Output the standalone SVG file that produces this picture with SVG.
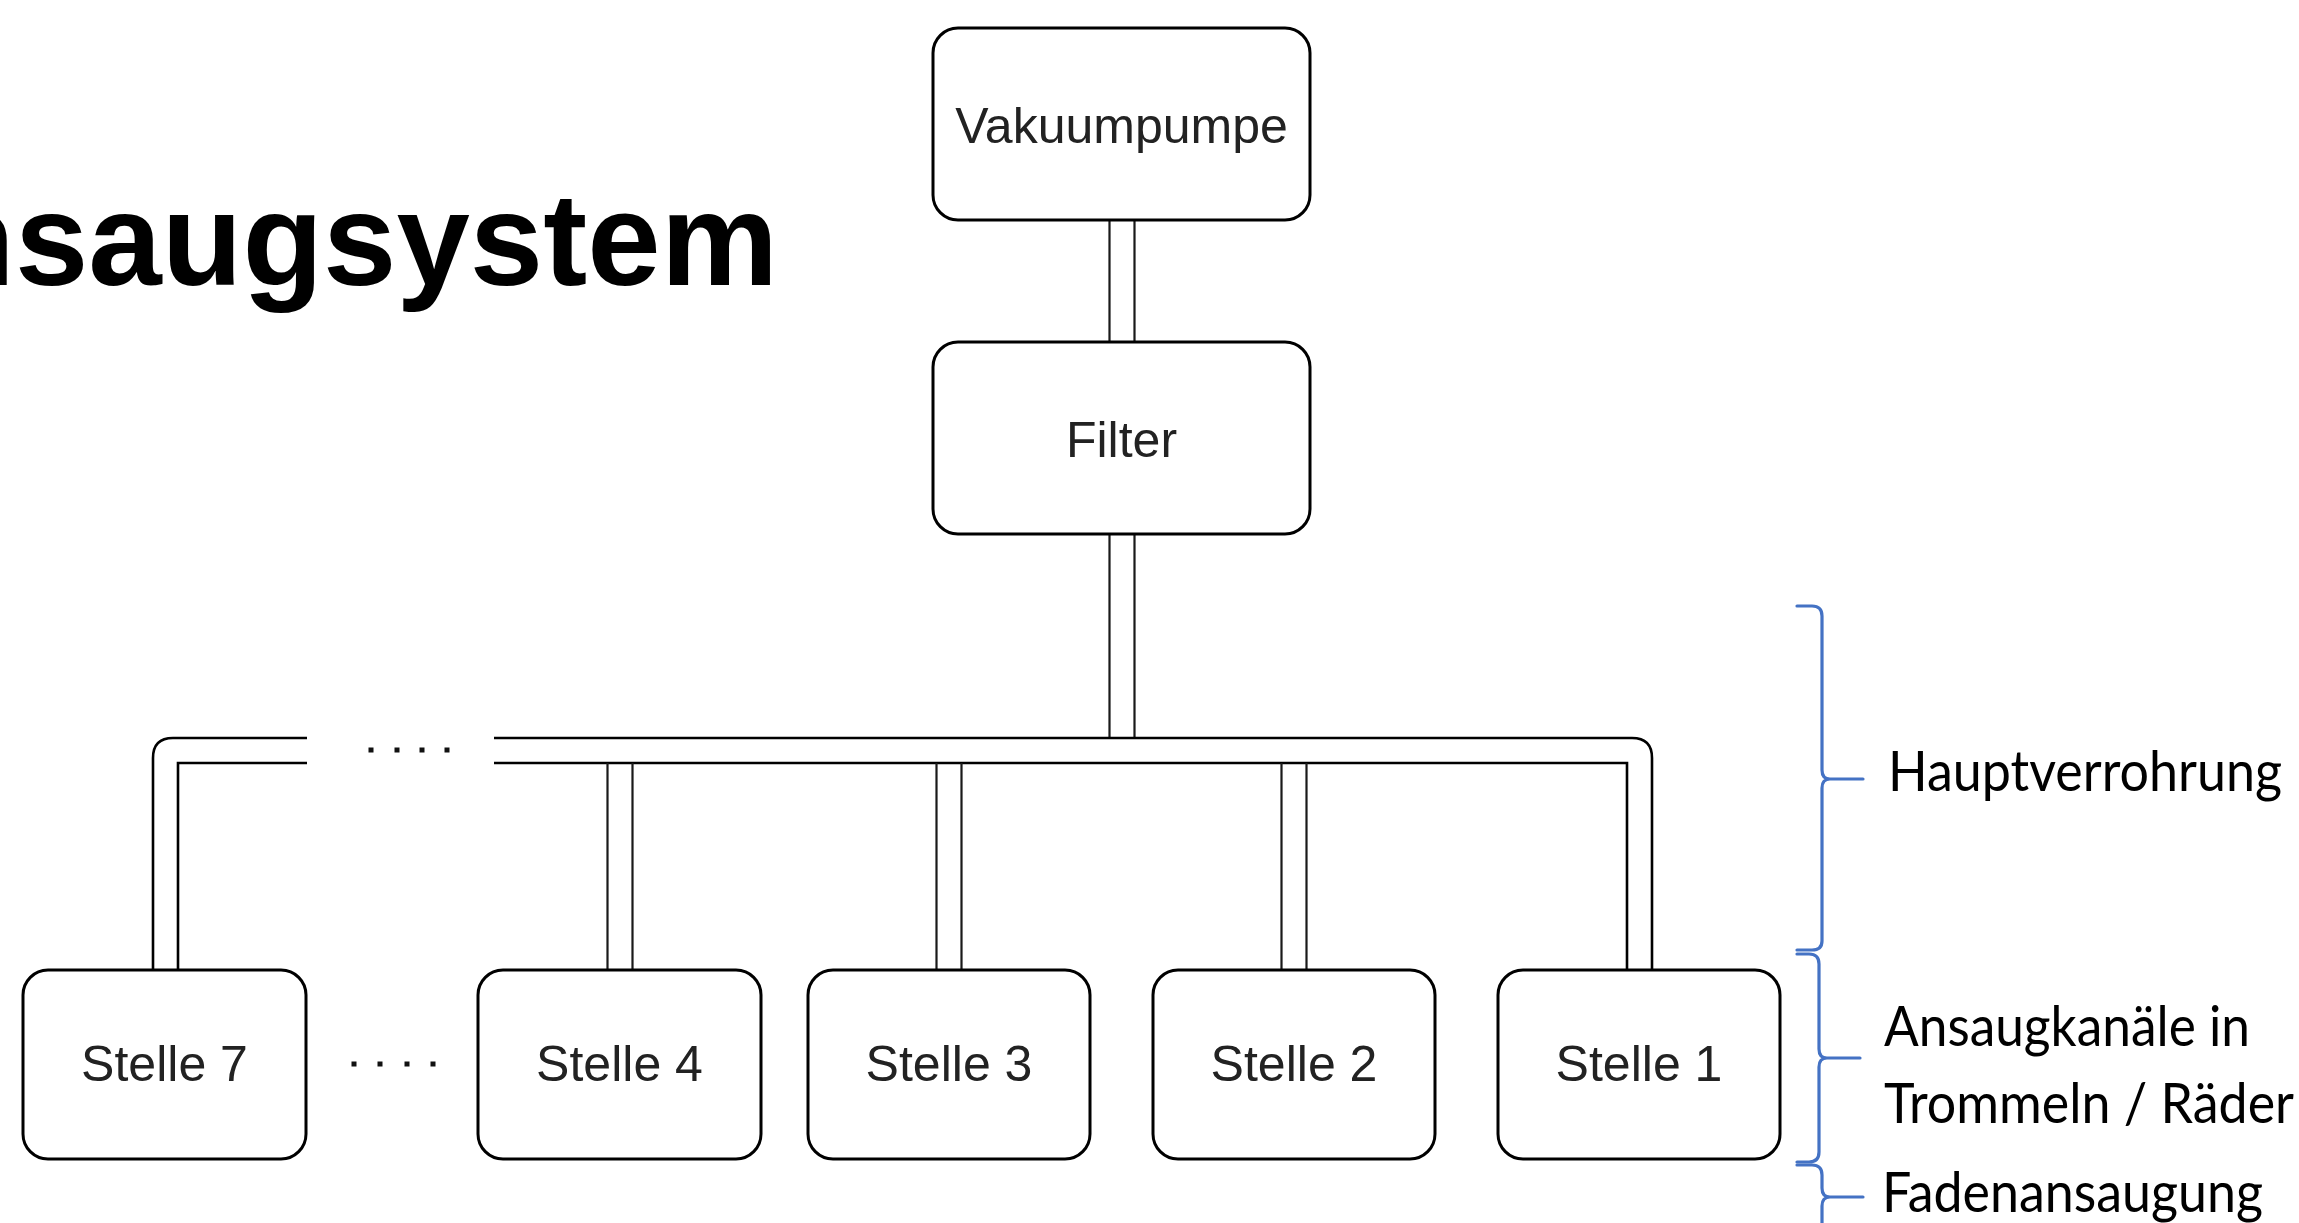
<svg xmlns="http://www.w3.org/2000/svg" width="2299" height="1223" viewBox="0 0 2299 1223">
  <style>
    .box { fill: #ffffff; stroke: #000000; stroke-width: 3; }
    .lbl { font-family: "Liberation Sans", Arial, sans-serif; font-size: 50px; fill: #222222; text-anchor: middle; }
    .pipe { fill: none; stroke: #000000; stroke-width: 2.6; }
    .branch { fill: none; stroke: #1a1a1a; stroke-width: 2.2; }
    .brace { fill: none; stroke: #4472C4; stroke-width: 3.2; stroke-linecap: round; stroke-linejoin: round; }
    .note { font-family: Lato, "Open Sans", sans-serif; font-size: 56px; fill: #000000; }
    .title { font-family: "Liberation Sans", Arial, sans-serif; font-weight: bold; font-size: 132px; fill: #000000; }
    .dot { fill: #111111; }
  </style>

  <!-- heading, partly outside the left edge -->
  <text class="title" x="-161" y="285">Ansaugsystem</text>

  <!-- pipework -->
  <g id="connectors">
    <!-- pump to filter -->
    <path class="branch" d="M1109.5,220 V342 M1134.5,220 V342"/>
    <!-- filter to main line -->
    <path class="branch" d="M1109.5,534 V738 M1134.5,534 V738"/>
    <!-- main line, left part down to Stelle 7 -->
    <path class="pipe" d="M307,738 H173 Q153,738 153,758 V970"/>
    <path class="pipe" d="M307,763 H178 V970"/>
    <!-- main line, right part down to Stelle 1 -->
    <path class="pipe" d="M494,738 H1632 Q1652,738 1652,758 V970"/>
    <path class="pipe" d="M494,763 H1627 V970"/>
    <!-- branches -->
    <path class="branch" d="M607.5,763 V970 M632.5,763 V970"/>
    <path class="branch" d="M936.5,763 V970 M961.5,763 V970"/>
    <path class="branch" d="M1281.5,763 V970 M1306.5,763 V970"/>
    <!-- omitted stretch of the main line -->
    <rect class="dot" x="368.5" y="747.5" width="5" height="5"/>
    <rect class="dot" x="394.5" y="747.5" width="5" height="5"/>
    <rect class="dot" x="419.5" y="747.5" width="5" height="5"/>
    <rect class="dot" x="444.5" y="747.5" width="5" height="5"/>
  </g>

  <g id="vakuumpumpe">
    <rect class="box" x="933" y="28" width="377" height="192" rx="25" ry="25"/>
    <text class="lbl" x="1121.5" y="143">Vakuumpumpe</text>
  </g>

  <g id="filter">
    <rect class="box" x="933" y="342" width="377" height="192" rx="25" ry="25"/>
    <text class="lbl" x="1121.5" y="457">Filter</text>
  </g>

  <g id="stelle7">
    <rect class="box" x="23" y="970" width="283" height="189" rx="25" ry="25"/>
    <text class="lbl" x="164.5" y="1081">Stelle 7</text>
  </g>

  <!-- omitted stations -->
  <g id="stellen-luecke">
    <rect class="dot" x="351.5" y="1061.5" width="5" height="5"/>
    <rect class="dot" x="377.5" y="1061.5" width="5" height="5"/>
    <rect class="dot" x="404.5" y="1061.5" width="5" height="5"/>
    <rect class="dot" x="430.5" y="1061.5" width="5" height="5"/>
  </g>

  <g id="stelle4">
    <rect class="box" x="478" y="970" width="283" height="189" rx="25" ry="25"/>
    <text class="lbl" x="619.5" y="1081">Stelle 4</text>
  </g>

  <g id="stelle3">
    <rect class="box" x="808" y="970" width="282" height="189" rx="25" ry="25"/>
    <text class="lbl" x="949" y="1081">Stelle 3</text>
  </g>

  <g id="stelle2">
    <rect class="box" x="1153" y="970" width="282" height="189" rx="25" ry="25"/>
    <text class="lbl" x="1294" y="1081">Stelle 2</text>
  </g>

  <g id="stelle1">
    <rect class="box" x="1498" y="970" width="282" height="189" rx="25" ry="25"/>
    <text class="lbl" x="1639" y="1081">Stelle 1</text>
  </g>

  <!-- section braces with their captions -->
  <g id="hauptverrohrung">
    <path class="brace" d="M1797,606 H1812 Q1822,606 1822,616 V770 Q1822,779 1830,779 Q1822,779 1822,788 V941 Q1822,950 1812,950 H1797 M1828,779 H1863"/>
    <text class="note" x="1888" y="791" textLength="394" lengthAdjust="spacingAndGlyphs">Hauptverrohrung</text>
  </g>

  <g id="ansaugkanaele">
    <path class="brace" d="M1797,954 H1809 Q1819,954 1819,964 V1049 Q1819,1058 1827,1058 Q1819,1058 1819,1067 V1152 Q1819,1162 1809,1162 H1797 M1825,1058 H1860"/>
    <text class="note" x="1884" y="1046" textLength="366" lengthAdjust="spacingAndGlyphs">Ansaugkanäle in</text>
    <text class="note" x="1884" y="1123" textLength="410" lengthAdjust="spacingAndGlyphs">Trommeln / Räder</text>
  </g>

  <g id="fadenansaugung">
    <path class="brace" d="M1797,1165 H1812 Q1822,1165 1822,1175 V1188 Q1822,1197 1830,1197 Q1822,1197 1822,1206 V1240 M1828,1197 H1863"/>
    <text class="note" x="1882" y="1212" textLength="381" lengthAdjust="spacingAndGlyphs">Fadenansaugung</text>
  </g>
</svg>
